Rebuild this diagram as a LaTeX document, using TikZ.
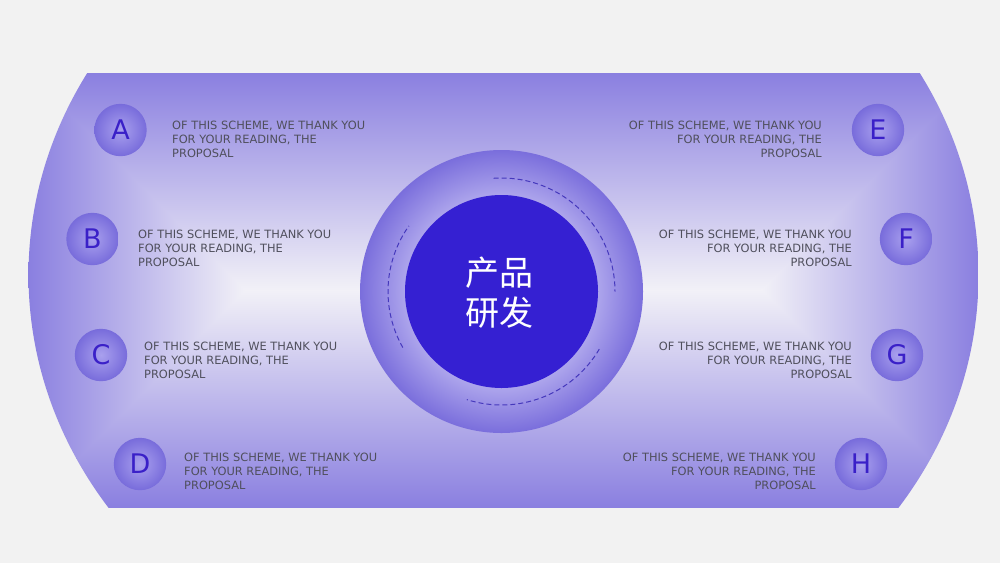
\documentclass[tikz,border=0pt]{standalone}
\usepackage{fontspec}
\setmainfont{DejaVu Sans}
\newfontfamily\cjk{Noto Sans CJK SC}
\definecolor{pagebg}{HTML}{F2F2F2}
\definecolor{bgIn}{HTML}{F2F1F7}
\definecolor{bgOut}{HTML}{8A7FE0}
\definecolor{ringA}{HTML}{C4BEF2}
\definecolor{ringB}{HTML}{ADA5EC}
\definecolor{ringC}{HTML}{7A6EDC}
\definecolor{dotA}{HTML}{A9A0EE}
\definecolor{dotB}{HTML}{786CDB}
\definecolor{core}{HTML}{3520D2}
\definecolor{lettercol}{HTML}{3A20C8}
\definecolor{textcol}{HTML}{4F4F5C}
\definecolor{dashcol}{HTML}{4538BC}
\pgfdeclareradialshading{ringshade}{\pgfpoint{0bp}{0bp}}{color(0bp)=(ringA); color(17bp)=(ringB); color(25bp)=(ringC); color(50bp)=(ringC)}
\pgfdeclareradialshading{dotshade}{\pgfpoint{0bp}{0bp}}{color(0bp)=(dotA); color(25bp)=(dotB); color(50bp)=(dotB)}
\tikzset{
  lettercirc/.style={circle, minimum size=52.4pt, inner sep=0pt, shade, shading=dotshade,
    text=lettercol, font=\fontsize{27}{27}\selectfont},
  descl/.style={anchor=north west, align=left, inner sep=0pt, text=textcol,
    font=\fontsize{11.4}{13.7}\selectfont},
  descr/.style={anchor=north east, align=right, inner sep=0pt, text=textcol,
    font=\fontsize{11.4}{13.7}\selectfont},
  dasharc/.style={draw=dashcol, line width=1pt, dash pattern=on 5pt off 3pt}
}
\begin{document}
\begin{tikzpicture}[x=1pt, y=-1pt]
\useasboundingbox (0,0) rectangle (1000,563);
\fill[pagebg] (0,0) rectangle (1000,563);
% big band shape with rectangular path gradient
\begin{scope}
  \clip (503.5,275) ellipse [x radius=475, y radius=419];
  \clip (0,73) rectangle (1000,507);
  \shade[top color=bgOut, bottom color=bgIn] (27,72) -- (980,72) -- (763,290.5) -- (244,290.5) -- cycle;
  \shade[top color=bgIn, bottom color=bgOut] (244,289.5) -- (763,289.5) -- (980,508) -- (27,508) -- cycle;
  \shade[left color=bgOut, right color=bgIn] (28,73) -- (245.5,289) -- (245.5,291) -- (28,507) -- cycle;
  \shade[left color=bgIn, right color=bgOut] (761.5,289) -- (979,73) -- (979,507) -- (761.5,291) -- cycle;
\end{scope}
% centre
\node[circle, minimum size=283pt, inner sep=0pt, shade, shading=ringshade] (ring) at (501.5,291.5) {};
\node[circle, minimum size=193pt, inner sep=0pt, fill=core] (corec) at (501.5,291.5) {};
\coordinate (ctr) at (501.5,291.5);
\draw[dasharc] ([shift={(-94:113.5)}]ctr) arc[start angle=-94, end angle=0, radius=113.5];
\draw[dasharc] ([shift={(150.4:113.5)}]ctr) arc[start angle=150.4, end angle=215.3, radius=113.5];
\draw[dasharc] ([shift={(30.5:113.5)}]ctr) arc[start angle=30.5, end angle=107.8, radius=113.5];
\node[align=center, text=white, inner sep=0pt, font=\cjk\fontsize{34}{40}\selectfont] (title) at (499,293) {产品\\研发};
% letter circles
\node[lettercirc] (cA) at (120.5,130) {A};
\node[lettercirc] (cB) at (92.5,239) {B};
\node[lettercirc] (cC) at (101,355) {C};
\node[lettercirc] (cD) at (140,464) {D};
\node[lettercirc] (cE) at (878,130) {E};
\node[lettercirc] (cF) at (906,239) {F};
\node[lettercirc] (cG) at (897,355) {G};
\node[lettercirc] (cH) at (861,464) {H};
% descriptions
\node[descl] (tA) at (172,121) {OF THIS SCHEME, WE THANK YOU\\FOR YOUR READING, THE\\PROPOSAL};
\node[descl] (tB) at (138,230) {OF THIS SCHEME, WE THANK YOU\\FOR YOUR READING, THE\\PROPOSAL};
\node[descl] (tC) at (144,342) {OF THIS SCHEME, WE THANK YOU\\FOR YOUR READING, THE\\PROPOSAL};
\node[descl] (tD) at (184,453) {OF THIS SCHEME, WE THANK YOU\\FOR YOUR READING, THE\\PROPOSAL};
\node[descr] (tE) at (822,121) {OF THIS SCHEME, WE THANK YOU\\FOR YOUR READING, THE\\PROPOSAL};
\node[descr] (tF) at (852,230) {OF THIS SCHEME, WE THANK YOU\\FOR YOUR READING, THE\\PROPOSAL};
\node[descr] (tG) at (852,342) {OF THIS SCHEME, WE THANK YOU\\FOR YOUR READING, THE\\PROPOSAL};
\node[descr] (tH) at (816,453) {OF THIS SCHEME, WE THANK YOU\\FOR YOUR READING, THE\\PROPOSAL};
\end{tikzpicture}
\end{document}
